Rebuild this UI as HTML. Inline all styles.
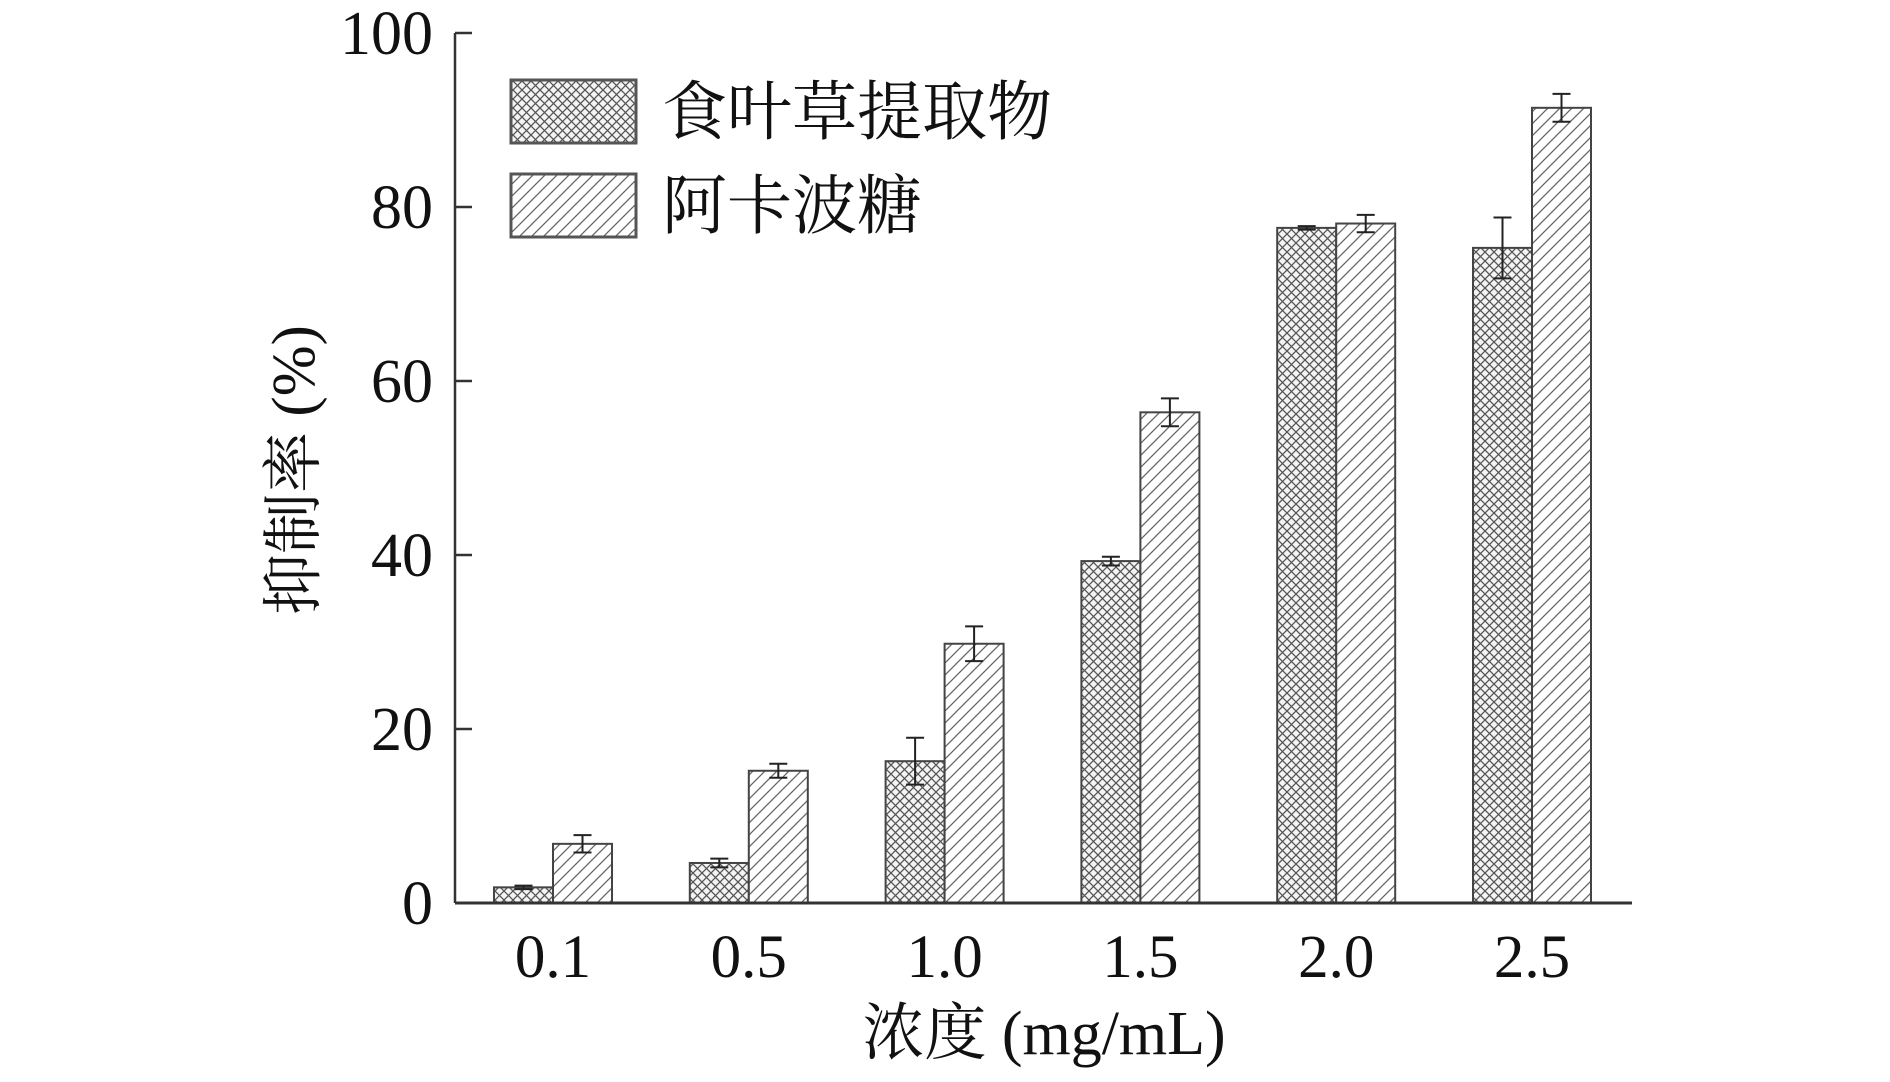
<!DOCTYPE html>
<html><head><meta charset="utf-8"><style>
body{margin:0;background:#fff}
svg text{font-family:"Liberation Serif","Noto Serif CJK SC",serif;fill:#111}
</style></head><body>
<svg id="chart" width="1890" height="1077" viewBox="0 0 1890 1077">
<defs>
<pattern id="cross" width="9" height="9" patternUnits="userSpaceOnUse">
<rect width="9" height="9" fill="#f4f4f4"/>
<path d="M0,0L9,9M9,0L0,9" stroke="#555" stroke-width="1.3"/>
</pattern>
<pattern id="hatch" width="12" height="12" patternUnits="userSpaceOnUse">
<rect width="12" height="12" fill="#fff"/>
<path d="M-3,15L15,-3M-3,3L3,-3M9,15L15,9" stroke="#666" stroke-width="1.3"/>
</pattern>
</defs>
<g id="plot"></g>
<g>
<rect x="511" y="80" width="125" height="63" fill="url(#cross)" stroke="#555" stroke-width="3"/>
<text x="662" y="134" font-size="65">食叶草提取物</text>
<rect x="511" y="174" width="125" height="63" fill="url(#hatch)" stroke="#555" stroke-width="3"/>
<text x="662" y="228" font-size="65">阿卡波糖</text>
</g>
<text transform="translate(314,470) rotate(-90)" text-anchor="middle" font-size="61">抑制率 (%)</text>
<text x="1044" y="1054" text-anchor="middle" font-size="62">浓度 (mg/mL)</text>
</svg>
<script>
const categories=["0.1","0.5","1.0","1.5","2.0","2.5"];
const extractValues=[1.8,4.6,16.3,39.3,77.6,75.3];
const extractErrors=[0.2,0.5,2.7,0.5,0.2,3.5];
const acarboseValues=[6.8,15.2,29.8,56.4,78.1,91.4];
const acarboseErrors=[1.0,0.8,2.0,1.6,1.0,1.6];
const yTicks=[0,20,40,60,80,100];
const NS="http://www.w3.org/2000/svg";
const g=document.getElementById('plot');
const X0=455,X1=1632,Y0=903,Y100=33;
const y=v=>Y0+(Y100-Y0)*v/100;
const cx=i=>553+i*195.8;
const BW=59;
function mk(t,a){const e=document.createElementNS(NS,t);for(const k in a)e.setAttribute(k,a[k]);g.appendChild(e);return e;}
function bar(i,vals,errs,fill,off,name){
  const v=vals[i],x=cx(i)+off;
  const r=mk('rect',{x:x,y:y(v),width:BW,height:Y0-y(v),fill:fill,stroke:'#444','stroke-width':2});
  
  
  const e=errs[i],xc=x+BW/2;
  const eb=mk('path',{d:`M${xc},${y(v+e)}V${y(v-e)}M${xc-9},${y(v+e)}H${xc+9}M${xc-9},${y(v-e)}H${xc+9}`,stroke:'#222','stroke-width':2,fill:'none'});
  
  
}
categories.forEach((c,i)=>{
  bar(i,extractValues,extractErrors,'url(#cross)',-BW,'extract');
  bar(i,acarboseValues,acarboseErrors,'url(#hatch)',0,'acarbose');
  const t=mk('text',{x:cx(i),y:977,'text-anchor':'middle','font-size':61});
  t.textContent=c;
  
  
});
yTicks.forEach(v=>{
  const tk=mk('line',{x1:X0,x2:X0+17,y1:y(v),y2:y(v),stroke:'#333','stroke-width':2.5});
  
  
  const t=mk('text',{x:X0-22,y:y(v)+21,'text-anchor':'end','font-size':62});
  t.textContent=v;
  
  
});
const ya=mk('line',{x1:X0,x2:X0,y1:Y100,y2:Y0,stroke:'#333','stroke-width':2.5});


const xa=mk('line',{x1:X0,x2:X1,y1:Y0,y2:Y0,stroke:'#333','stroke-width':3});


</script>
</body></html>
